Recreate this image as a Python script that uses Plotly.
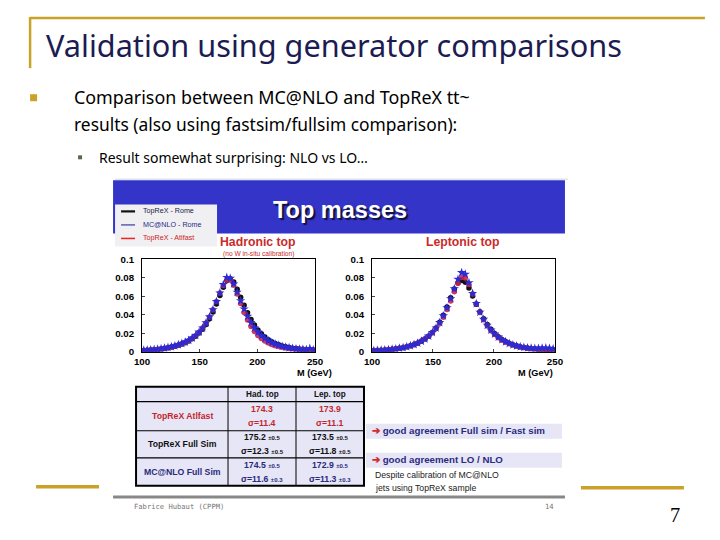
"""Slide: validation of top mass reconstruction using generator comparisons."""

import plotly.graph_objects as go

W, H = 720, 540
# the photographed page comes out slightly shrunk about its centre; layout
# coordinates below are in reference-picture pixels and get stretched back
RENDER_SCALE = 0.978

# bin centres (GeV)
MASS_BINS = [
    101.5, 104.5, 107.5, 110.5, 113.5, 116.5, 119.5, 122.5, 125.5, 128.5,
    131.5, 134.5, 137.5, 140.5, 143.5, 146.5, 149.5, 152.5, 155.5, 158.5,
    161.5, 164.5, 167.5, 170.5, 173.5, 176.5, 179.5, 182.5, 185.5, 188.5,
    191.5, 194.5, 197.5, 200.5, 203.5, 206.5, 209.5, 212.5, 215.5, 218.5,
    221.5, 224.5, 227.5, 230.5, 233.5, 236.5, 239.5, 242.5, 245.5, 248.5,
]

# hadronic top
HAD_TOPREX_ROME = [
    0.0012, 0.0014, 0.0017, 0.0020, 0.0024, 0.0029, 0.0034, 0.0041, 0.0049, 0.0058,
    0.0069, 0.0082, 0.0097, 0.0116, 0.0139, 0.0167, 0.0201, 0.0243, 0.0295, 0.0357,
    0.0431, 0.0516, 0.0608, 0.0699, 0.0772, 0.0792, 0.0755, 0.0678, 0.0590, 0.0503,
    0.0422, 0.0350, 0.0288, 0.0236, 0.0193, 0.0158, 0.0130, 0.0107, 0.0089, 0.0074,
    0.0062, 0.0052, 0.0044, 0.0038, 0.0033, 0.0029, 0.0025, 0.0022, 0.0020, 0.0018,
]
HAD_TOPREX_ATLFAST = [
    0.0013, 0.0015, 0.0018, 0.0021, 0.0025, 0.0030, 0.0036, 0.0043, 0.0051, 0.0061,
    0.0073, 0.0087, 0.0103, 0.0122, 0.0146, 0.0175, 0.0211, 0.0256, 0.0311, 0.0377,
    0.0455, 0.0545, 0.0636, 0.0718, 0.0775, 0.0778, 0.0720, 0.0625, 0.0522, 0.0425,
    0.0342, 0.0274, 0.0219, 0.0176, 0.0142, 0.0115, 0.0094, 0.0078, 0.0065, 0.0055,
    0.0047, 0.0040, 0.0035, 0.0031, 0.0027, 0.0024, 0.0022, 0.0020, 0.0018, 0.0017,
]
HAD_MCATNLO_ROME = [
    0.0015, 0.0017, 0.0020, 0.0023, 0.0027, 0.0032, 0.0038, 0.0045, 0.0053, 0.0063,
    0.0075, 0.0088, 0.0104, 0.0123, 0.0147, 0.0176, 0.0212, 0.0257, 0.0312, 0.0378,
    0.0455, 0.0543, 0.0637, 0.0728, 0.0805, 0.0795, 0.0735, 0.0645, 0.0552, 0.0463,
    0.0383, 0.0315, 0.0258, 0.0212, 0.0174, 0.0143, 0.0118, 0.0098, 0.0082, 0.0069,
    0.0058, 0.0049, 0.0042, 0.0036, 0.0031, 0.0027, 0.0024, 0.0022, 0.0035, 0.0018,
]

# leptonic top
LEP_TOPREX_ROME = [
    0.0011, 0.0013, 0.0015, 0.0018, 0.0021, 0.0025, 0.0030, 0.0036, 0.0043, 0.0052,
    0.0063, 0.0076, 0.0092, 0.0112, 0.0137, 0.0168, 0.0207, 0.0256, 0.0318, 0.0394,
    0.0485, 0.0585, 0.0680, 0.0745, 0.0772, 0.0752, 0.0690, 0.0605, 0.0515, 0.0432,
    0.0358, 0.0295, 0.0242, 0.0198, 0.0162, 0.0133, 0.0109, 0.0090, 0.0075, 0.0063,
    0.0053, 0.0045, 0.0039, 0.0034, 0.0030, 0.0027, 0.0025, 0.0023, 0.0021, 0.0019,
]
LEP_TOPREX_ATLFAST = [
    0.0012, 0.0014, 0.0016, 0.0019, 0.0022, 0.0026, 0.0031, 0.0037, 0.0045, 0.0054,
    0.0065, 0.0079, 0.0095, 0.0115, 0.0139, 0.0169, 0.0206, 0.0251, 0.0306, 0.0374,
    0.0456, 0.0550, 0.0651, 0.0742, 0.0805, 0.0800, 0.0728, 0.0625, 0.0520, 0.0426,
    0.0346, 0.0280, 0.0227, 0.0185, 0.0151, 0.0124, 0.0102, 0.0085, 0.0071, 0.0060,
    0.0051, 0.0044, 0.0038, 0.0034, 0.0031, 0.0029, 0.0028, 0.0027, 0.0026, 0.0024,
]
LEP_MCATNLO_ROME = [
    0.0012, 0.0014, 0.0016, 0.0019, 0.0022, 0.0026, 0.0031, 0.0037, 0.0044, 0.0053,
    0.0064, 0.0077, 0.0093, 0.0113, 0.0138, 0.0169, 0.0208, 0.0256, 0.0315, 0.0388,
    0.0475, 0.0575, 0.0682, 0.0785, 0.0858, 0.0840, 0.0748, 0.0632, 0.0522, 0.0428,
    0.0350, 0.0286, 0.0234, 0.0192, 0.0158, 0.0130, 0.0107, 0.0089, 0.0074, 0.0062,
    0.0053, 0.0046, 0.0041, 0.0037, 0.0035, 0.0036, 0.0038, 0.0040, 0.0036, 0.0030,
]

Y_TICKS = [0, 0.02, 0.04, 0.06, 0.08, 0.1]
Y_TICK_LABELS = ["0", "0.02", "0.04", "0.06", "0.08", "0.1"]
X_TICKS = [100, 150, 200, 250]

# results table
TABLE_HEADER = ["", "Had. top", "Lep. top"]
ROW_LABELS = ["TopReX Atlfast", "TopReX Full Sim", "MC@NLO Full Sim"]
HAD_MASS = ["174.3", "175.2", "174.5"]
HAD_MASS_ERR = ["", "0.5", "0.5"]
HAD_SIGMA = ["11.4", "12.3", "11.6"]
HAD_SIGMA_ERR = ["", "0.5", "0.3"]
LEP_MASS = ["173.9", "173.5", "172.9"]
LEP_MASS_ERR = ["", "0.5", "0.5"]
LEP_SIGMA = ["11.1", "11.8", "11.3"]
LEP_SIGMA_ERR = ["", "0.5", "0.3"]
ROW_COLORS = ["#c4262e", "#111111", "#2a2a7c"]

GOLD = "#c9a227"
NAVY = "#1c1c52"
BANNER = "#3434c8"
LAVENDER = "#e6e6f6"
BLUE = "#2b2bd6"


def px(x):
    return (W / 2 + (x - W / 2) / RENDER_SCALE) / W


def py(y):
    return 1 - (H / 2 + (y - H / 2) / RENDER_SCALE) / H


def fs(size):
    return size / RENDER_SCALE


def with_err(value, err):
    if not err:
        return value
    return f'{value} <span style="font-size:6px">±{err}</span>'


fig = go.Figure()

panels = [
    ("x", "y", HAD_TOPREX_ROME, HAD_TOPREX_ATLFAST, HAD_MCATNLO_ROME),
    ("x2", "y2", LEP_TOPREX_ROME, LEP_TOPREX_ATLFAST, LEP_MCATNLO_ROME),
]
for xa, ya, rome, atlfast, nlo in panels:
    fig.add_trace(go.Scatter(
        x=MASS_BINS, y=rome, mode="markers", xaxis=xa, yaxis=ya,
        marker=dict(symbol="circle", size=5.5, color="#111111"), showlegend=False,
    ))
    fig.add_trace(go.Scatter(
        x=MASS_BINS, y=atlfast, mode="markers", xaxis=xa, yaxis=ya,
        marker=dict(symbol="circle", size=5.5, color="rgba(205,35,70,0.9)"), showlegend=False,
    ))
    fig.add_trace(go.Scatter(
        x=MASS_BINS, y=nlo, mode="markers", xaxis=xa, yaxis=ya,
        marker=dict(symbol="star", size=7, color=BLUE), showlegend=False,
    ))

axis_common = dict(
    showline=True, linecolor="black", linewidth=1, mirror=True,
    showgrid=False, zeroline=False, ticks="inside", ticklen=3,
    tickfont=dict(family="Liberation Sans", size=fs(9.5), color="black", weight="bold"),
)
x_common = dict(range=[100, 250], tickvals=X_TICKS, ticklabelstandoff=1, **axis_common)
y_common = dict(range=[0, 0.1], tickvals=Y_TICKS, ticktext=Y_TICK_LABELS,
                ticklabelstandoff=5, **axis_common)
fig.update_layout(
    width=W, height=H,
    margin=dict(l=0, r=0, t=0, b=0),
    paper_bgcolor="white", plot_bgcolor="white",
    xaxis=dict(domain=[px(142), px(315)], anchor="y", **x_common),
    yaxis=dict(domain=[py(351), py(259)], anchor="x", **y_common),
    xaxis2=dict(domain=[px(372), px(555)], anchor="y2", **x_common),
    yaxis2=dict(domain=[py(351), py(259)], anchor="x2", **y_common),
)


def rect(x0, y0, x1, y1, fill, line_color=None, width=0, layer="below"):
    fig.add_shape(type="rect", xref="paper", yref="paper",
                  x0=px(x0), x1=px(x1), y0=py(y0), y1=py(y1),
                  fillcolor=fill, layer=layer,
                  line=dict(color=line_color or fill, width=width))


def line(x0, y0, x1, y1, color, width, layer="above"):
    fig.add_shape(type="line", xref="paper", yref="paper",
                  x0=px(x0), x1=px(x1), y0=py(y0), y1=py(y1), layer=layer,
                  line=dict(color=color, width=width))


def text(x, y, s, size, color="black", family="Liberation Sans", anchor="left",
         weight="normal", shadow="none"):
    fig.add_annotation(xref="paper", yref="paper", x=px(x), y=py(y), text=s,
                       showarrow=False, xanchor=anchor, yanchor="middle",
                       font=dict(family=family, size=fs(size), color=color,
                                 weight=weight, shadow=shadow))


# slide frame
line(30, 18, 705, 18, GOLD, 2.5)
line(30, 17, 30, 68, GOLD, 2.5)
line(36, 486, 99, 486, GOLD, 3.5)
line(581, 487, 684, 487, GOLD, 3.5)

text(44, 45, "Validation using generator comparisons", 30, NAVY, "Noto Sans")
rect(30, 94, 37, 101, GOLD)
text(72, 97, "Comparison between MC@NLO and TopReX tt~", 17.5, "black", "Noto Sans")
text(72, 124, "results (also using fastsim/fullsim comparison):", 17, "black", "Noto Sans")
rect(78, 155, 82, 159, "#556b4f")
text(97, 157, "Result somewhat surprising: NLO vs LO…", 13.7, "black", "Noto Sans")
text(675, 514, "7", 20, "black", "Liberation Serif", "center")

# embedded slide
line(115, 179, 568, 179, "#dfe2f2", 1.5, "below")
rect(113, 180, 565, 233, BANNER)
text(340, 210, "Top masses", 23, "white", anchor="center", weight="bold",
     shadow="2px 2px 1px #10103a")
rect(115, 204, 217, 246, "#f0f0f2")
legend_items = [
    ("TopReX - Rome", "#111111", 2.2, "#222244"),
    ("MC@NLO - Rome", "#3a3aa0", 1.2, "#2a2a88"),
    ("TopReX - Atlfast", "#ee2222", 1.5, "#cc2222"),
]
for i, (label, lc, lw, tc) in enumerate(legend_items):
    yy = 211 + i * 13.5
    line(121, yy, 135, yy, lc, lw)
    text(141, yy, label, 7, tc)

text(258, 242, "Hadronic top", 12, "#cc2a2a", anchor="center", weight="bold")
text(258, 254, "(no W in-situ calibration)", 6.5, "#cc2a2a", anchor="center")
text(463, 242, "Leptonic top", 12, "#cc2a2a", anchor="center", weight="bold")
text(314, 372, "M (GeV)", 9, "black", anchor="center", weight="bold")
text(536, 372, "M (GeV)", 9, "black", anchor="center", weight="bold")

# results table, drawn cell by cell
col_edges = [136, 228, 296, 364]
row_edges = [386, 401, 430, 457, 485]
rect(col_edges[0], row_edges[0], col_edges[-1], row_edges[-1], LAVENDER)
for xe in col_edges[1:-1]:
    line(xe, row_edges[0], xe, row_edges[-1], "black", 1)
for ye in row_edges[1:-1]:
    line(col_edges[0], ye, col_edges[-1], ye, "black", 1.2)
rect(col_edges[0], row_edges[0], col_edges[-1], row_edges[-1],
     "rgba(0,0,0,0)", "black", 2, "above")

for c, label in enumerate(TABLE_HEADER):
    if label:
        xc = (col_edges[c] + col_edges[c + 1]) / 2
        text(xc, (row_edges[0] + row_edges[1]) / 2, label, 8, "#111111",
             anchor="center", weight="bold")

value_cols = [
    (HAD_MASS, HAD_MASS_ERR, HAD_SIGMA, HAD_SIGMA_ERR),
    (LEP_MASS, LEP_MASS_ERR, LEP_SIGMA, LEP_SIGMA_ERR),
]
for r, label in enumerate(ROW_LABELS):
    yc = (row_edges[r + 1] + row_edges[r + 2]) / 2
    color = ROW_COLORS[r]
    text((col_edges[0] + col_edges[1]) / 2, yc, label, 8.5, color,
         anchor="center", weight="bold")
    for c, (mass, mass_err, sigma, sigma_err) in enumerate(value_cols):
        xc = (col_edges[c + 1] + col_edges[c + 2]) / 2
        text(xc, yc - 7, with_err(mass[r], mass_err[r]), 8.5, color,
             anchor="center", weight="bold")
        text(xc, yc + 7, "σ=" + with_err(sigma[r], sigma_err[r]), 8.5, color,
             anchor="center", weight="bold")

rect(366, 423, 562, 438, LAVENDER)
text(370, 430, '<span style="color:#d42a2a">➔</span> good agreement Full sim / Fast sim',
     9.5, "#2a2a80", weight="bold")
rect(366, 452, 562, 467, LAVENDER)
text(370, 459, '<span style="color:#d42a2a">➔</span> good agreement LO / NLO',
     9.5, "#2a2a80", weight="bold")
text(373, 474, "Despite calibration of MC@NLO", 8.5, "#222222")
text(373, 487, "jets using TopReX sample", 8.5, "#222222")

line(113, 496, 565, 496, "#888888", 3)
text(132, 506, "Fabrice Hubaut (CPPM)", 7, "#777777", "DejaVu Sans Mono")
text(543, 506, "14", 7, "#777777", "DejaVu Sans Mono")

fig.write_html(
    "out.html",
    config={"displayModeBar": False},
    post_script="document.body.style.margin='0';document.body.style.overflow='hidden';",
)
